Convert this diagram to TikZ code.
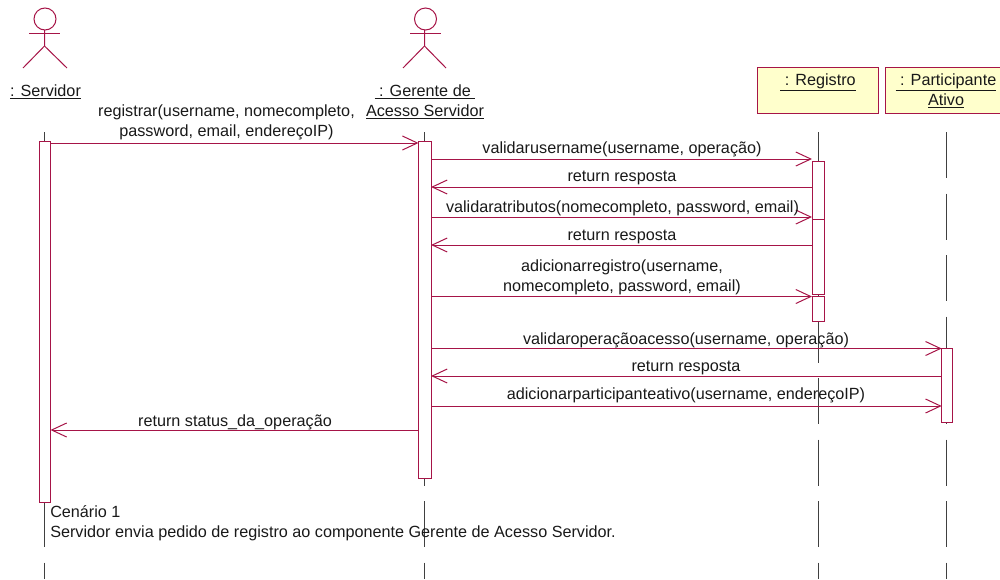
\documentclass[tikz,border=0pt]{standalone}
\usepackage{fontspec}
\setmainfont{Liberation Sans}
\usetikzlibrary{arrows.meta}
\definecolor{umlvinho}{HTML}{A61447}
\definecolor{umlamarelo}{HTML}{FFFFCC}
\def\px{0.75pt}
\newcommand{\sublinhado}[1]{\leavevmode\vtop{\hbox{#1}\kern0.9pt\hrule height 0.8pt}}
\tikzset{
	texto/.style={inner sep=0pt, align=center, text=black!90, font=\fontsize{12.15}{15}\selectfont},
	objeto/.style={texto, draw=umlvinho, fill=umlamarelo, line width=1pt, minimum width=121*\px, minimum height=46.5*\px},
	barra/.style={draw=umlvinho, fill=white, line width=\px, inner sep=0pt, outer sep=0pt, minimum width=12*\px},
	vida/.style={black!75, line width=\px, dash pattern=on 46*\px off 15.5*\px},
	boneco/.style={umlvinho, line width=\px},
	msg/.style={umlvinho, line width=\px, -{Straight Barb[length=15*\px, width=14*\px]}}
}
\begin{document}
\begin{tikzpicture}[x=\px, y=-\px]
	\useasboundingbox (0, 0) rectangle (1000, 579);

	% linhas de vida
	\coordinate (iniservidor) at (44.5, 132);
	\coordinate (fimservidor) at (44.5, 579);
	\coordinate (inigerente) at (424.5, 132);
	\coordinate (fimgerente) at (424.5, 579);
	\coordinate (iniregistro) at (818, 132);
	\coordinate (fimregistro) at (818, 579);
	\coordinate (iniativo) at (946, 132);
	\coordinate (fimativo) at (946, 579);
	\draw[vida] (iniservidor) -- (fimservidor);
	\draw[vida] (inigerente) -- (fimgerente);
	\draw[vida] (iniregistro) -- (fimregistro);
	\draw[vida] (iniativo) -- (fimativo);

	% atores
	\draw[boneco] (45, 19) circle (11);
	\draw[boneco] (44.5, 30) -- (44.5, 46) -- (23, 68);
	\draw[boneco] (44.5, 46) -- (67, 68);
	\draw[boneco] (29, 33.5) -- (60, 33.5);
	\draw[boneco] (425.5, 19) circle (11);
	\draw[boneco] (424.5, 30) -- (424.5, 46) -- (403, 68);
	\draw[boneco] (424.5, 46) -- (446, 68);
	\draw[boneco] (410, 33.5) -- (441, 33.5);

	% nomes
	\node[texto] (servidor) at (45.5, 92) {\sublinhado{: Servidor}};
	\node[texto] (gerente) at (425, 101.5) {\sublinhado{\ : Gerente de\ }\\\sublinhado{Acesso Servidor}};
	\node[objeto] (registro) at (818, 90.5) {\sublinhado{\ : Registro}\\\rule[-1.7pt]{0pt}{1.7pt}};
	\node[objeto] (ativo) at (946, 90.5) {\sublinhado{\ : Participante}\\\sublinhado{Ativo}};

	% barras de ativacao
	\node[barra, minimum width=11*\px, minimum height=361*\px] (barservidor) at (45, 322) {};
	\node[barra, minimum width=12.5*\px, minimum height=337.5*\px] (bargerente) at (424.8, 310.2) {};
	\node[barra, minimum height=57.5*\px] (barreg1) at (818, 190.5) {};
	\node[barra, minimum height=74.5*\px] (barreg2) at (818, 256.8) {};
	\node[barra, minimum height=25*\px] (barreg3) at (818, 309.2) {};
	\node[barra, minimum width=11*\px, minimum height=74*\px] (barativo) at (947.2, 385.3) {};

	% mensagens
	\draw[msg] (barservidor.east |- 0, 143) -- (bargerente.west |- 0, 143);
	\draw[msg] (bargerente.east |- 0, 159) -- (barreg1.west |- 0, 159);
	\draw[msg] (barreg1.west |- 0, 187) -- (bargerente.east |- 0, 187);
	\draw[msg] (bargerente.east |- 0, 217) -- (barreg2.west |- 0, 217);
	\draw[msg] (barreg2.west |- 0, 245) -- (bargerente.east |- 0, 245);
	\draw[msg] (bargerente.east |- 0, 296.5) -- (barreg3.west |- 0, 296.5);
	\draw[msg] (bargerente.east |- 0, 348.5) -- (barativo.west |- 0, 348.5);
	\draw[msg] (barativo.west |- 0, 376) -- (bargerente.east |- 0, 376);
	\draw[msg] (bargerente.east |- 0, 406) -- (barativo.west |- 0, 406);
	\draw[msg] (bargerente.west |- 0, 430) -- (barservidor.east |- 0, 430);

	% textos das mensagens
	\node[texto] (txtregistrar) at (226.5, 122) {registrar(username, nomecompleto,\\password, email, endereçoIP)};
	\node[texto] (txtusername) at (622, 149) {validarusername(username, operação)};
	\node[texto] (txtresp1) at (622, 177.5) {return resposta};
	\node[texto] (txtatributos) at (622.5, 208) {validaratributos(nomecompleto, password, email)};
	\node[texto] (txtresp2) at (622, 236.5) {return resposta};
	\node[texto] (txtadicionar) at (622, 277) {adicionarregistro(username,\\nomecompleto, password, email)};
	\node[texto] (txtacesso) at (686, 340) {validaroperaçãoacesso(username, operação)};
	\node[texto] (txtresp3) at (686, 367.5) {return resposta};
	\node[texto] (txtparticipante) at (686, 395) {adicionarparticipanteativo(username, endereçoIP)};
	\node[texto] (txtstatus) at (235, 422.5) {return status\_da\_operação};

	% cenario
	\node[texto, anchor=north west, align=left] (cenario) at (50, 505.5) {Cenário 1\\Servidor envia pedido de registro ao componente Gerente de Acesso Servidor.};
\end{tikzpicture}
\end{document}
